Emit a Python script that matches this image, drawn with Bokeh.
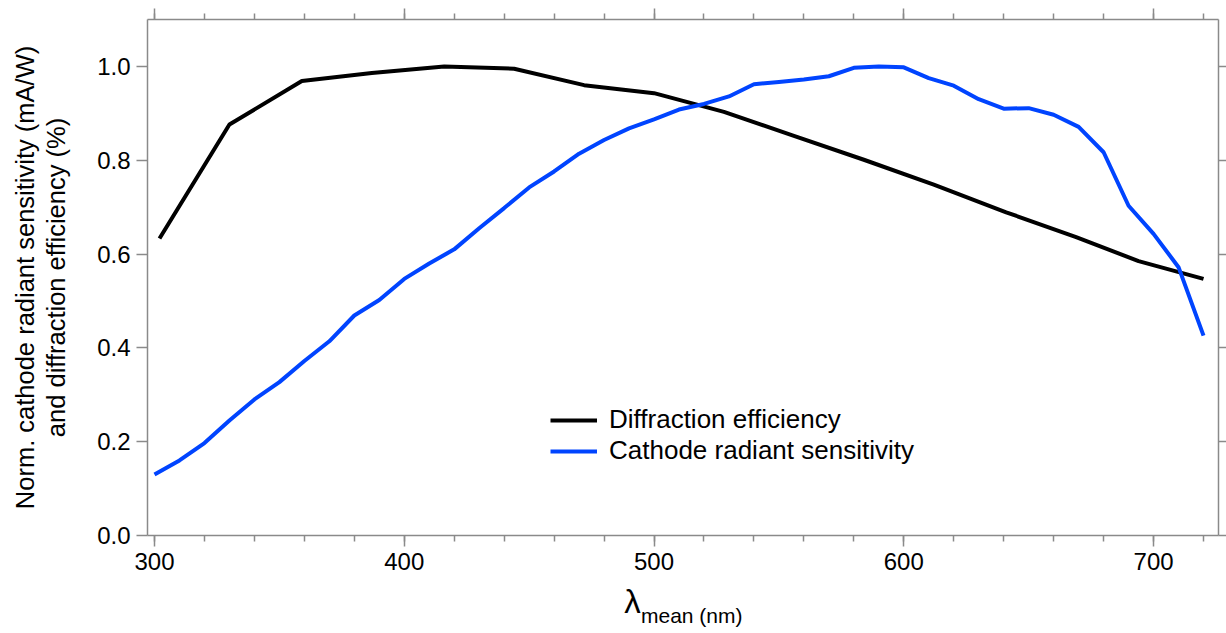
from bokeh.plotting import figure
from bokeh.models import (LinearAxis, FixedTicker, PrintfTickFormatter, Range1d,
                          Legend, LegendItem)
from bokeh.embed import file_html
from bokeh.resources import INLINE

# ---- data ----
diff_wl = [302, 330, 359, 387, 416, 444, 472, 500, 528, 556, 584, 612, 641, 669, 694, 720]
diff_eff = [0.633, 0.876, 0.969, 0.986, 1.000, 0.995, 0.960, 0.943, 0.903, 0.852,
            0.801, 0.748, 0.689, 0.636, 0.585, 0.547]

cath_wl = [300, 310, 320, 330, 340, 350, 360, 370, 380, 390, 400, 410, 420, 430, 440,
           450, 460, 470, 480, 490, 500, 510, 520, 530, 540, 550, 560, 570, 580, 590,
           600, 610, 620, 630, 640, 650, 660, 670, 680, 690, 700, 710, 720]
cath_sens = [0.130, 0.160, 0.197, 0.245, 0.290, 0.327, 0.372, 0.414, 0.469, 0.502,
             0.547, 0.580, 0.610, 0.655, 0.698, 0.742, 0.776, 0.814, 0.843, 0.868,
             0.887, 0.908, 0.920, 0.936, 0.962, 0.967, 0.972, 0.979, 0.997, 1.000,
             0.998, 0.975, 0.959, 0.930, 0.910, 0.911, 0.897, 0.871, 0.817, 0.703,
             0.643, 0.572, 0.426]

x_major = [300, 400, 500, 600, 700]
y_major = [0.0, 0.2, 0.4, 0.6, 0.8, 1.0]
series_names = ["Diffraction efficiency", "Cathode radiant sensitivity"]
ylabel_lines = ["Norm. cathode radiant sensitivity (mA/W)", "and diffraction efficiency (%)"]
xlabel_main = "λ"
xlabel_sub = "mean (nm)"

FONT = "Liberation Sans"
AX = "#8a8a8a"
BLUE = "#0044ff"
NB = "\u00a0"

p = figure(frame_width=1071, frame_height=516, output_backend="svg",
           toolbar_location=None, x_axis_type=None, y_axis_type=None,
           x_range=Range1d(297.2, 726.0), y_range=Range1d(0.0, 1.1),
           min_border_left=147, min_border_right=8, min_border_top=19,
           min_border_bottom=98)
p.outline_line_color = None
p.xgrid.visible = False
p.ygrid.visible = False
p.background_fill_color = "white"
p.border_fill_color = "white"

xt = FixedTicker(ticks=x_major, minor_ticks=list(range(300, 721, 20)))
yt = FixedTicker(ticks=y_major)


def style(ax, major_len, minor_len, labels, ticks):
    ax.axis_line_color = AX
    ax.axis_line_width = 1.5
    ax.major_tick_line_color = AX
    ax.major_tick_line_width = 1.5
    ax.minor_tick_line_color = AX
    ax.minor_tick_line_width = 1.5
    ax.major_tick_in = 0
    ax.major_tick_out = major_len
    ax.minor_tick_in = 0
    ax.minor_tick_out = minor_len
    ax.major_label_text_font = FONT
    ax.major_label_text_color = "black"
    ax.major_label_text_font_size = "24px"
    if not labels:
        ax.major_label_overrides = {t: "" for t in ticks}
        ax.major_label_standoff = 0


def label_axis(ax, text, standoff, size="25.5px"):
    ax.axis_label = text
    ax.axis_label_text_font = FONT
    ax.axis_label_text_font_size = size
    ax.axis_label_text_font_style = "normal"
    ax.axis_label_text_color = "black"
    ax.axis_label_standoff = standoff


def label_only_axis():
    ax = LinearAxis(ticker=FixedTicker(ticks=[]))
    ax.axis_line_color = None
    ax.major_tick_line_color = None
    ax.minor_tick_line_color = None
    ax.major_tick_out = 0
    ax.minor_tick_out = 0
    ax.major_label_standoff = 0
    return ax


bottom = LinearAxis(ticker=xt)
style(bottom, 11, 6, True, x_major)
bottom.major_label_standoff = 6
label_axis(bottom, xlabel_main + NB * 11, 10, "33px")
p.add_layout(bottom, "below")

# subscript of the x label, carried by a label-only axis pulled up next to the lambda
bottom_sub = label_only_axis()
label_axis(bottom_sub, NB * 3 + xlabel_sub, -19, "21px")
p.add_layout(bottom_sub, "below")

top = LinearAxis(ticker=xt)
style(top, 11, 6, False, x_major)
p.add_layout(top, "above")

left = LinearAxis(ticker=yt, formatter=PrintfTickFormatter(format="%.1f"))
style(left, 11, 0, True, y_major)
left.major_label_standoff = 6
label_axis(left, ylabel_lines[1], 24)
p.add_layout(left, "left")

# outer, label-only axis that carries the first line of the y label
left_outer = label_only_axis()
label_axis(left_outer, ylabel_lines[0], 1)
p.add_layout(left_outer, "left")

right = LinearAxis(ticker=yt)
style(right, 8, 0, False, y_major)
p.add_layout(right, "right")

r1 = p.line(diff_wl, diff_eff, line_color="black", line_width=4)
r2 = p.line(cath_wl, cath_sens, line_color=BLUE, line_width=4)

legend = Legend(items=[LegendItem(label=series_names[0], renderers=[r1]),
                       LegendItem(label=series_names[1], renderers=[r2])],
                location=(403, 69), orientation="vertical")
legend.border_line_color = None
legend.background_fill_alpha = 0
legend.padding = 0
legend.margin = 0
legend.spacing = 0
legend.glyph_width = 47
legend.glyph_height = 30
legend.label_height = 30
legend.label_standoff = 12
legend.label_text_font = FONT
legend.label_text_font_size = "26px"
legend.label_text_color = "black"
p.add_layout(legend, "center")

open("out.html", "w").write(file_html(p, INLINE))
